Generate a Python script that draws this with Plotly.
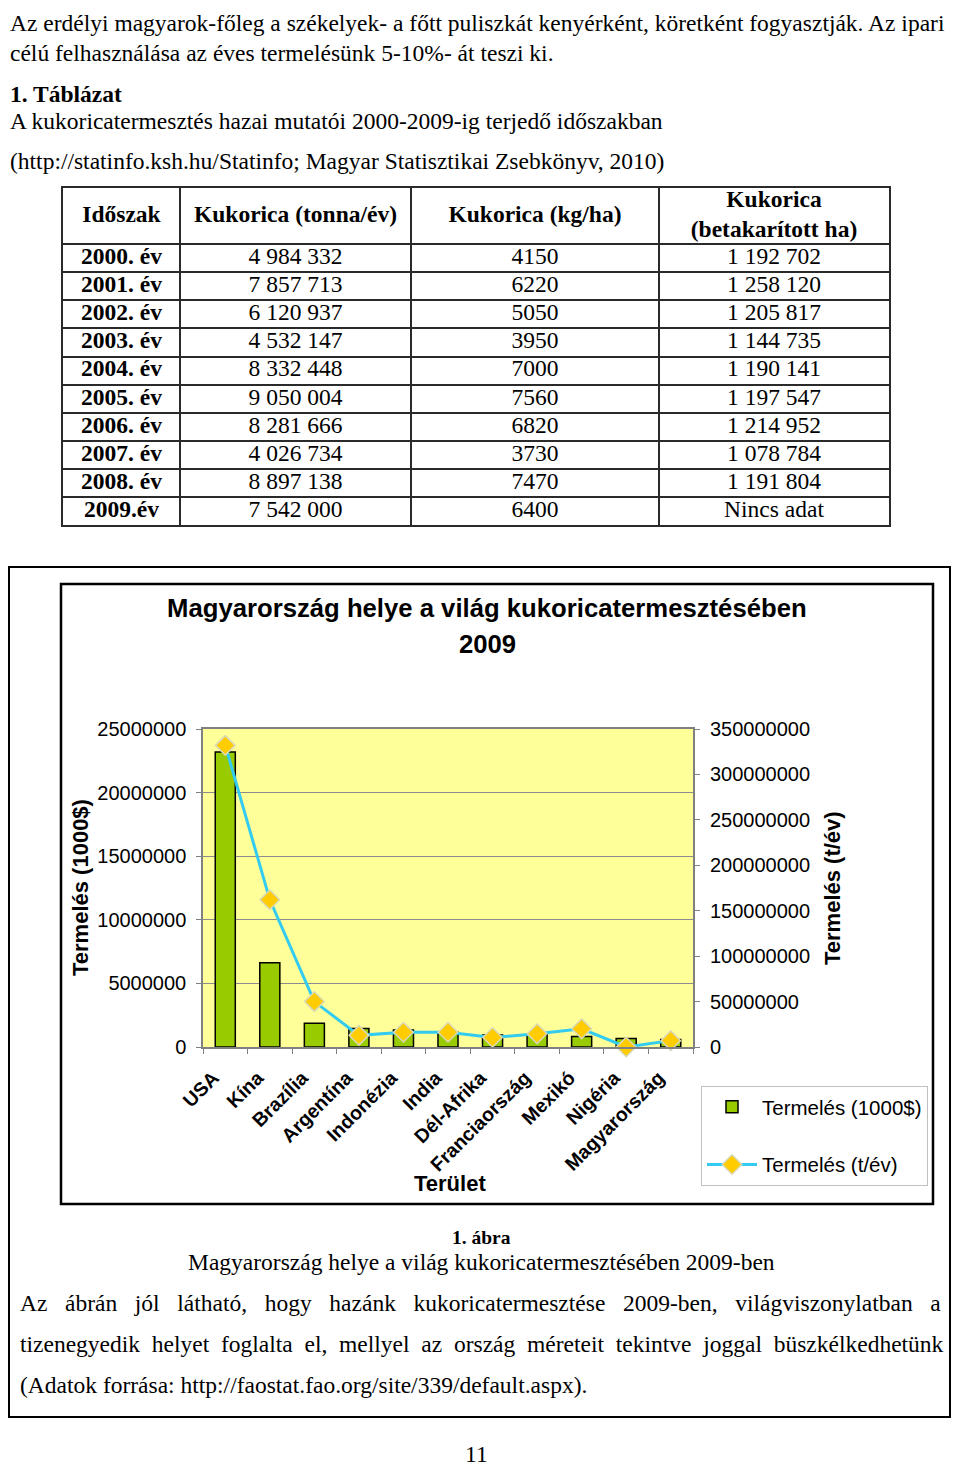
import plotly.graph_objects as go

# page is rendered with the default 8px body margin, so work in page pixels
OX, OY = 8, 8
W, H = 944, 1462

# --- table data (KSH, 2000-2009) ---
periods = ["2000. év", "2001. év", "2002. év", "2003. év", "2004. év",
           "2005. év", "2006. év", "2007. év", "2008. év", "2009.év"]
corn_tonnes = ["4 984 332", "7 857 713", "6 120 937", "4 532 147", "8 332 448",
               "9 050 004", "8 281 666", "4 026 734", "8 897 138", "7 542 000"]
corn_yield = ["4150", "6220", "5050", "3950", "7000", "7560", "6820", "3730", "7470", "6400"]
corn_area = ["1 192 702", "1 258 120", "1 205 817", "1 144 735", "1 190 141",
             "1 197 547", "1 214 952", "1 078 784", "1 191 804", "Nincs adat"]
table_headers = ["Időszak", "Kukorica (tonna/év)", "Kukorica (kg/ha)",
                 "Kukorica<br>(betakarított ha)"]

# --- chart data (FAOSTAT 2009) ---
countries = ["USA", "Kína", "Brazília", "Argentína", "Indonézia", "India",
             "Dél-Afrika", "Franciaország", "Mexikó", "Nigéria", "Magyarország"]
value_1000usd = [23200000, 6630000, 1860000, 1450000, 1340000, 1150000,
                 940000, 1050000, 820000, 670000, 580000]
production_t = [332000000, 162000000, 50000000, 12800000, 16200000, 16200000,
                10500000, 14500000, 20000000, 0, 7000000]


def px(x):
    return (x - OX) / W


def py(y):
    return 1 - (y - OY) / H


SERIF = "Liberation Serif"
SANS = "Liberation Sans"
BODY = 23.5

fig = go.Figure()

# ---------------- chart ----------------
fig.add_trace(go.Bar(
    x=countries, y=value_1000usd, name="Termelés (1000$)",
    marker=dict(color="#99CC00", line=dict(color="black", width=1.5)),
    width=0.45, legendgroup="a",
))
fig.add_trace(go.Scatter(
    x=countries, y=production_t, name="Termelés (t/év)", yaxis="y2",
    mode="lines+markers", cliponaxis=False, legendgroup="b",
    line=dict(color="#33CCF0", width=3),
    marker=dict(symbol="diamond", size=15, color="#FFCC00",
                line=dict(color="#D8D8B8", width=1.5)),
))

# ---------------- table: text drawn on its own axes ----------------
col_edges = [0, 117, 348, 596, 826]
col_mid = [(a + b) / 2 for a, b in zip(col_edges[:-1], col_edges[1:])]
row_pos = [2.5 + i for i in range(len(periods))]
columns = [periods, corn_tonnes, corn_yield, corn_area]

fig.add_trace(go.Scatter(
    x=col_mid, y=[1] * 4, text=table_headers, mode="text",
    textposition="middle center", xaxis="x2", yaxis="y3",
    textfont=dict(family=SERIF, size=BODY, color="black", weight="bold"),
    hoverinfo="skip", showlegend=False, cliponaxis=False,
))
for i, col in enumerate(columns):
    fig.add_trace(go.Scatter(
        x=[col_mid[i]] * len(col), y=row_pos, text=col, mode="text",
        textposition="middle center", xaxis="x2", yaxis="y3",
        textfont=dict(family=SERIF, size=BODY, color="black",
                      weight="bold" if i == 0 else "normal"),
        hoverinfo="skip", showlegend=False, cliponaxis=False,
    ))

axis_font = dict(family=SANS, size=20, color="black")
grid_line = "#2A2A2A"

fig.update_layout(
    width=W, height=H, autosize=False,
    margin=dict(l=0, r=0, t=0, b=0, autoexpand=False),
    paper_bgcolor="white",
    plot_bgcolor="rgba(0,0,0,0)",
    showlegend=True,
    xaxis=dict(
        domain=[px(203), px(693)], type="category", anchor="y",
        range=[-0.5, len(countries) - 0.5],
        tickangle=-45, tickson="boundaries", ticks="outside", ticklen=5,
        tickcolor="#808080", showline=True, linecolor="#808080", linewidth=1.5,
        mirror=True, showgrid=False, ticklabelstandoff=10, ticklabelshift=-12,
        tickfont=dict(family=SANS, size=19.5, color="black", weight="bold"),
    ),
    yaxis=dict(
        domain=[py(1047), py(729)], range=[0, 25000000], dtick=5000000,
        anchor="x", tickformat="d", showgrid=True, gridcolor="#8C8C8C",
        gridwidth=1, zeroline=False, ticks="outside", ticklen=5,
        tickcolor="#808080", showline=True, linecolor="#808080", linewidth=1.5,
        mirror=True, tickfont=axis_font, ticklabelstandoff=6,
    ),
    yaxis2=dict(
        overlaying="y", side="right", anchor="x", range=[0, 350000000],
        dtick=50000000, tickformat="d", showgrid=False, zeroline=False,
        ticks="outside", ticklen=6, tickcolor="#808080", tickfont=axis_font,
        ticklabelstandoff=6,
    ),
    xaxis2=dict(
        domain=[px(63), px(889)], anchor="y3", range=[0, 826],
        tickvals=col_edges[1:-1], showticklabels=False, ticks="",
        showgrid=True, gridcolor=grid_line, gridwidth=1.6, zeroline=False,
        showline=True, mirror=True, linecolor=grid_line, linewidth=1.6,
    ),
    yaxis3=dict(
        domain=[py(525), py(188)], anchor="x2", range=[12, 0],
        tickvals=list(range(2, 12)), showticklabels=False, ticks="",
        showgrid=True, gridcolor=grid_line, gridwidth=1.6, zeroline=False,
        showline=True, mirror=True, linecolor=grid_line, linewidth=1.6,
    ),
    legend=dict(
        x=px(701), y=py(1086), xanchor="left", yanchor="top",
        bordercolor="#C0C0C0", borderwidth=1, bgcolor="white",
        font=dict(family=SANS, size=20.5, color="black"),
        tracegroupgap=28, traceorder="grouped", itemwidth=50,
    ),
    shapes=[
        # yellow plot area of the chart
        dict(type="rect", xref="x domain", yref="y domain", x0=0, x1=1, y0=0, y1=1,
             fillcolor="#FFFF99", line=dict(width=0), layer="below"),
        dict(type="rect", xref="paper", yref="paper",
             x0=px(9), x1=px(950), y0=py(1417), y1=py(567),
             line=dict(color="black", width=2)),
        dict(type="rect", xref="paper", yref="paper",
             x0=px(61), x1=px(933), y0=py(1204), y1=py(584),
             line=dict(color="black", width=2.5)),
    ],
)


def justify(words, fill):
    return fill.join(words)


# (x, y, text, xanchor, yanchor, size)
texts = [
    (8, 8, "Az erdélyi magyarok-főleg a székelyek- a főtt puliszkát kenyérként, köretként fogyasztják. Az ipari", "left", "top", BODY),
    (8, 53, "célú felhasználása az éves termelésünk 5-10%- át teszi ki.", "left", "middle", BODY),
    (8, 94, "<b>1. Táblázat</b>", "left", "middle", BODY),
    (8, 121, "A kukoricatermesztés hazai mutatói 2000-2009-ig terjedő időszakban", "left", "middle", BODY),
    (8, 161, "(http://statinfo.ksh.hu/Statinfo; Magyar Statisztikai Zsebkönyv, 2010)", "left", "middle", BODY),
    (481, 1237, "<b>1. ábra</b>", "center", "middle", 19.5),
    (481, 1262, "Magyarország helye a világ kukoricatermesztésében 2009-ben", "center", "middle", BODY),
    (18, 1303, justify("Az ábrán jól látható, hogy hazánk kukoricatermesztése 2009-ben, világviszonylatban a".split(), " \u2002"), "left", "middle", BODY),
    (18, 1344, justify("tizenegyedik helyet foglalta el, mellyel az ország méreteit tekintve joggal büszkélkedhetünk".split(), " \u00a0"), "left", "middle", BODY),
    (18, 1385, "(Adatok forrása: http://faostat.fao.org/site/339/default.aspx).", "left", "middle", BODY),
    (476, 1469, "11", "center", "bottom", BODY),
]
for x, y, t, xa, ya, size in texts:
    fig.add_annotation(x=px(x), y=py(y), xref="paper", yref="paper",
                       text=t, showarrow=False, xanchor=xa, yanchor=ya,
                       font=dict(family=SERIF, size=size, color="black"))

# chart title and axis titles
for y, t in [(608, "Magyarország helye a világ kukoricatermesztésében"), (644, "2009")]:
    fig.add_annotation(x=px(487), y=py(y), xref="paper", yref="paper",
                       text=f"<b>{t}</b>", showarrow=False, xanchor="center",
                       yanchor="middle", font=dict(family=SANS, size=25.7, color="black"))
fig.add_annotation(x=px(80), y=py(888), xref="paper", yref="paper",
                   text="<b>Termelés (1000$)</b>", textangle=-90, showarrow=False,
                   xanchor="center", yanchor="middle",
                   font=dict(family=SANS, size=22, color="black"))
fig.add_annotation(x=px(832), y=py(888), xref="paper", yref="paper",
                   text="<b>Termelés (t/év)</b>", textangle=-90, showarrow=False,
                   xanchor="center", yanchor="middle",
                   font=dict(family=SANS, size=22, color="black"))
fig.add_annotation(x=px(450), y=py(1183), xref="paper", yref="paper",
                   text="<b>Terület</b>", showarrow=False,
                   xanchor="center", yanchor="middle",
                   font=dict(family=SANS, size=22, color="black"))

fig.write_html("out.html")
